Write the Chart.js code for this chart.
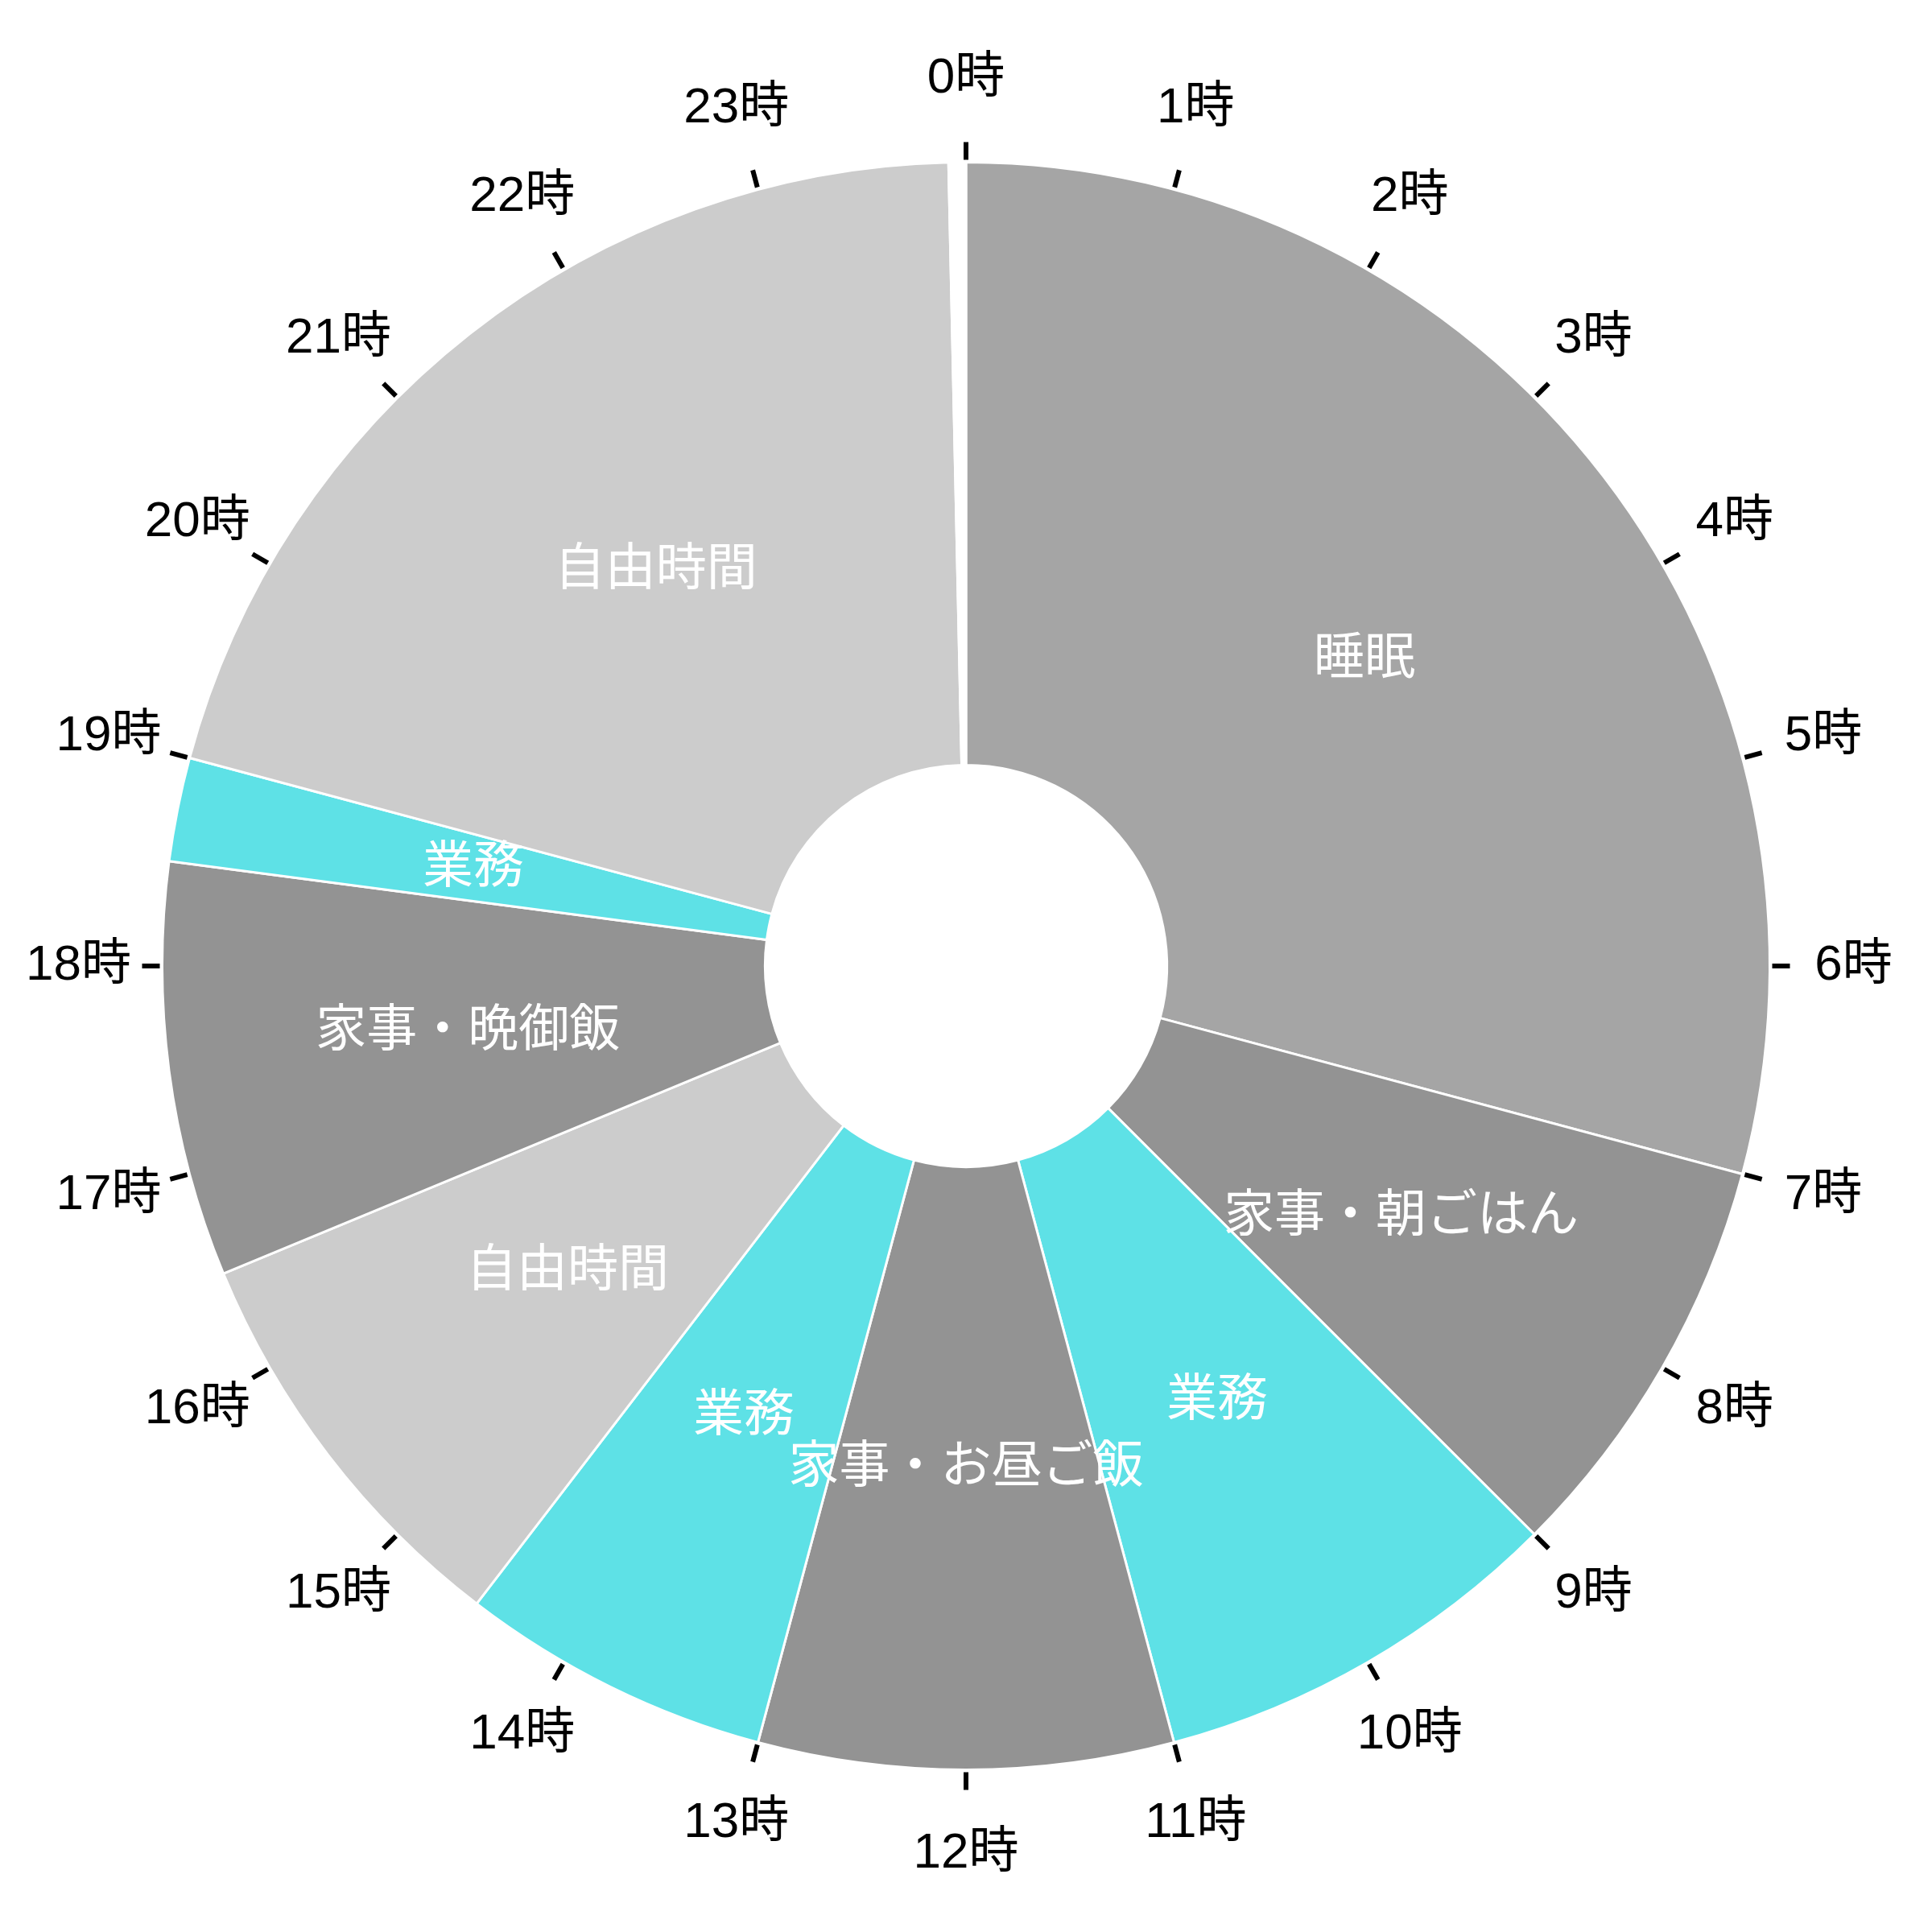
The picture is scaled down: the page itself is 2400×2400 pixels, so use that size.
<!DOCTYPE html>
<html><head><meta charset="utf-8">
<script src="https://cdn.jsdelivr.net/npm/chart.js@4"></script>
<style>html,body{margin:0;padding:0;background:#fff}#wrap{width:2400px;height:2400px;position:relative}</style>
</head><body><div id="wrap"><canvas id="c"></canvas></div>
<script>
// Activities around the 24h clock, starting at 0時 and going clockwise
const activities = ['睡眠', '家事・朝ごはん', '業務', '家事・お昼ご飯', '業務', '自由時間', '家事・晩御飯', '業務', '自由時間', ''];
// Duration of each activity in hours
const durations = [7, 2, 2, 2, 1.5, 2, 2, 0.5, 4.9167, 0.0833];
const sliceColors = ['#a5a5a5', '#939393', '#5ee1e6', '#939393', '#5ee1e6', '#cccccc', '#939393', '#5ee1e6', '#cccccc', '#ffffff'];
// Clock-face tick labels
const hourLabels = ['0時','1時','2時','3時','4時','5時','6時','7時','8時','9時','10時','11時',
                    '12時','13時','14時','15時','16時','17時','18時','19時','20時','21時','22時','23時'];

const FONT = '"Liberation Sans", "Noto Sans CJK JP", sans-serif';

const clockPlugin = {
  id: 'clockFace',
  afterDatasetsDraw(chart) {
    const meta = chart.getDatasetMeta(0);
    const first = meta.data[0];
    const {x, y, outerRadius} = first.getProps(['x', 'y', 'outerRadius'], true);
    const ctx = chart.ctx;
    ctx.save();
    // slice labels
    ctx.fillStyle = '#ffffff';
    ctx.font = '63px ' + FONT;
    ctx.textAlign = 'center';
    ctx.textBaseline = 'middle';
    meta.data.forEach((el, i) => {
      if (!activities[i]) return;
      const p = el.getCenterPoint(true);
      ctx.fillText(activities[i], p.x, p.y);
    });
    // hour ticks and labels
    ctx.strokeStyle = '#000';
    ctx.lineWidth = 6;
    ctx.fillStyle = '#000';
    ctx.font = '62px ' + FONT;
    const n = hourLabels.length;
    hourLabels.forEach((lab, i) => {
      const a = -Math.PI / 2 + i * 2 * Math.PI / n;
      const c = Math.cos(a), s = Math.sin(a);
      ctx.beginPath();
      ctx.moveTo(x + c * (outerRadius + 3), y + s * (outerRadius + 3));
      ctx.lineTo(x + c * (outerRadius + 25), y + s * (outerRadius + 25));
      ctx.stroke();
      const r = outerRadius + 104;
      ctx.fillText(lab, x + c * r, y + s * r);
    });
    ctx.restore();
  }
};

new Chart(document.getElementById('c'), {
  type: 'doughnut',
  data: {
    labels: activities,
    datasets: [{
      data: durations,
      backgroundColor: sliceColors,
      borderColor: '#ffffff',
      borderWidth: 3
    }]
  },
  options: {
    responsive: true,
    maintainAspectRatio: false,
    animation: false,
    devicePixelRatio: 1,
    cutout: '25%',
    layout: { padding: 200 },
    plugins: { legend: { display: false }, tooltip: { enabled: false } }
  },
  plugins: [clockPlugin]
});
</script>
</body></html>
